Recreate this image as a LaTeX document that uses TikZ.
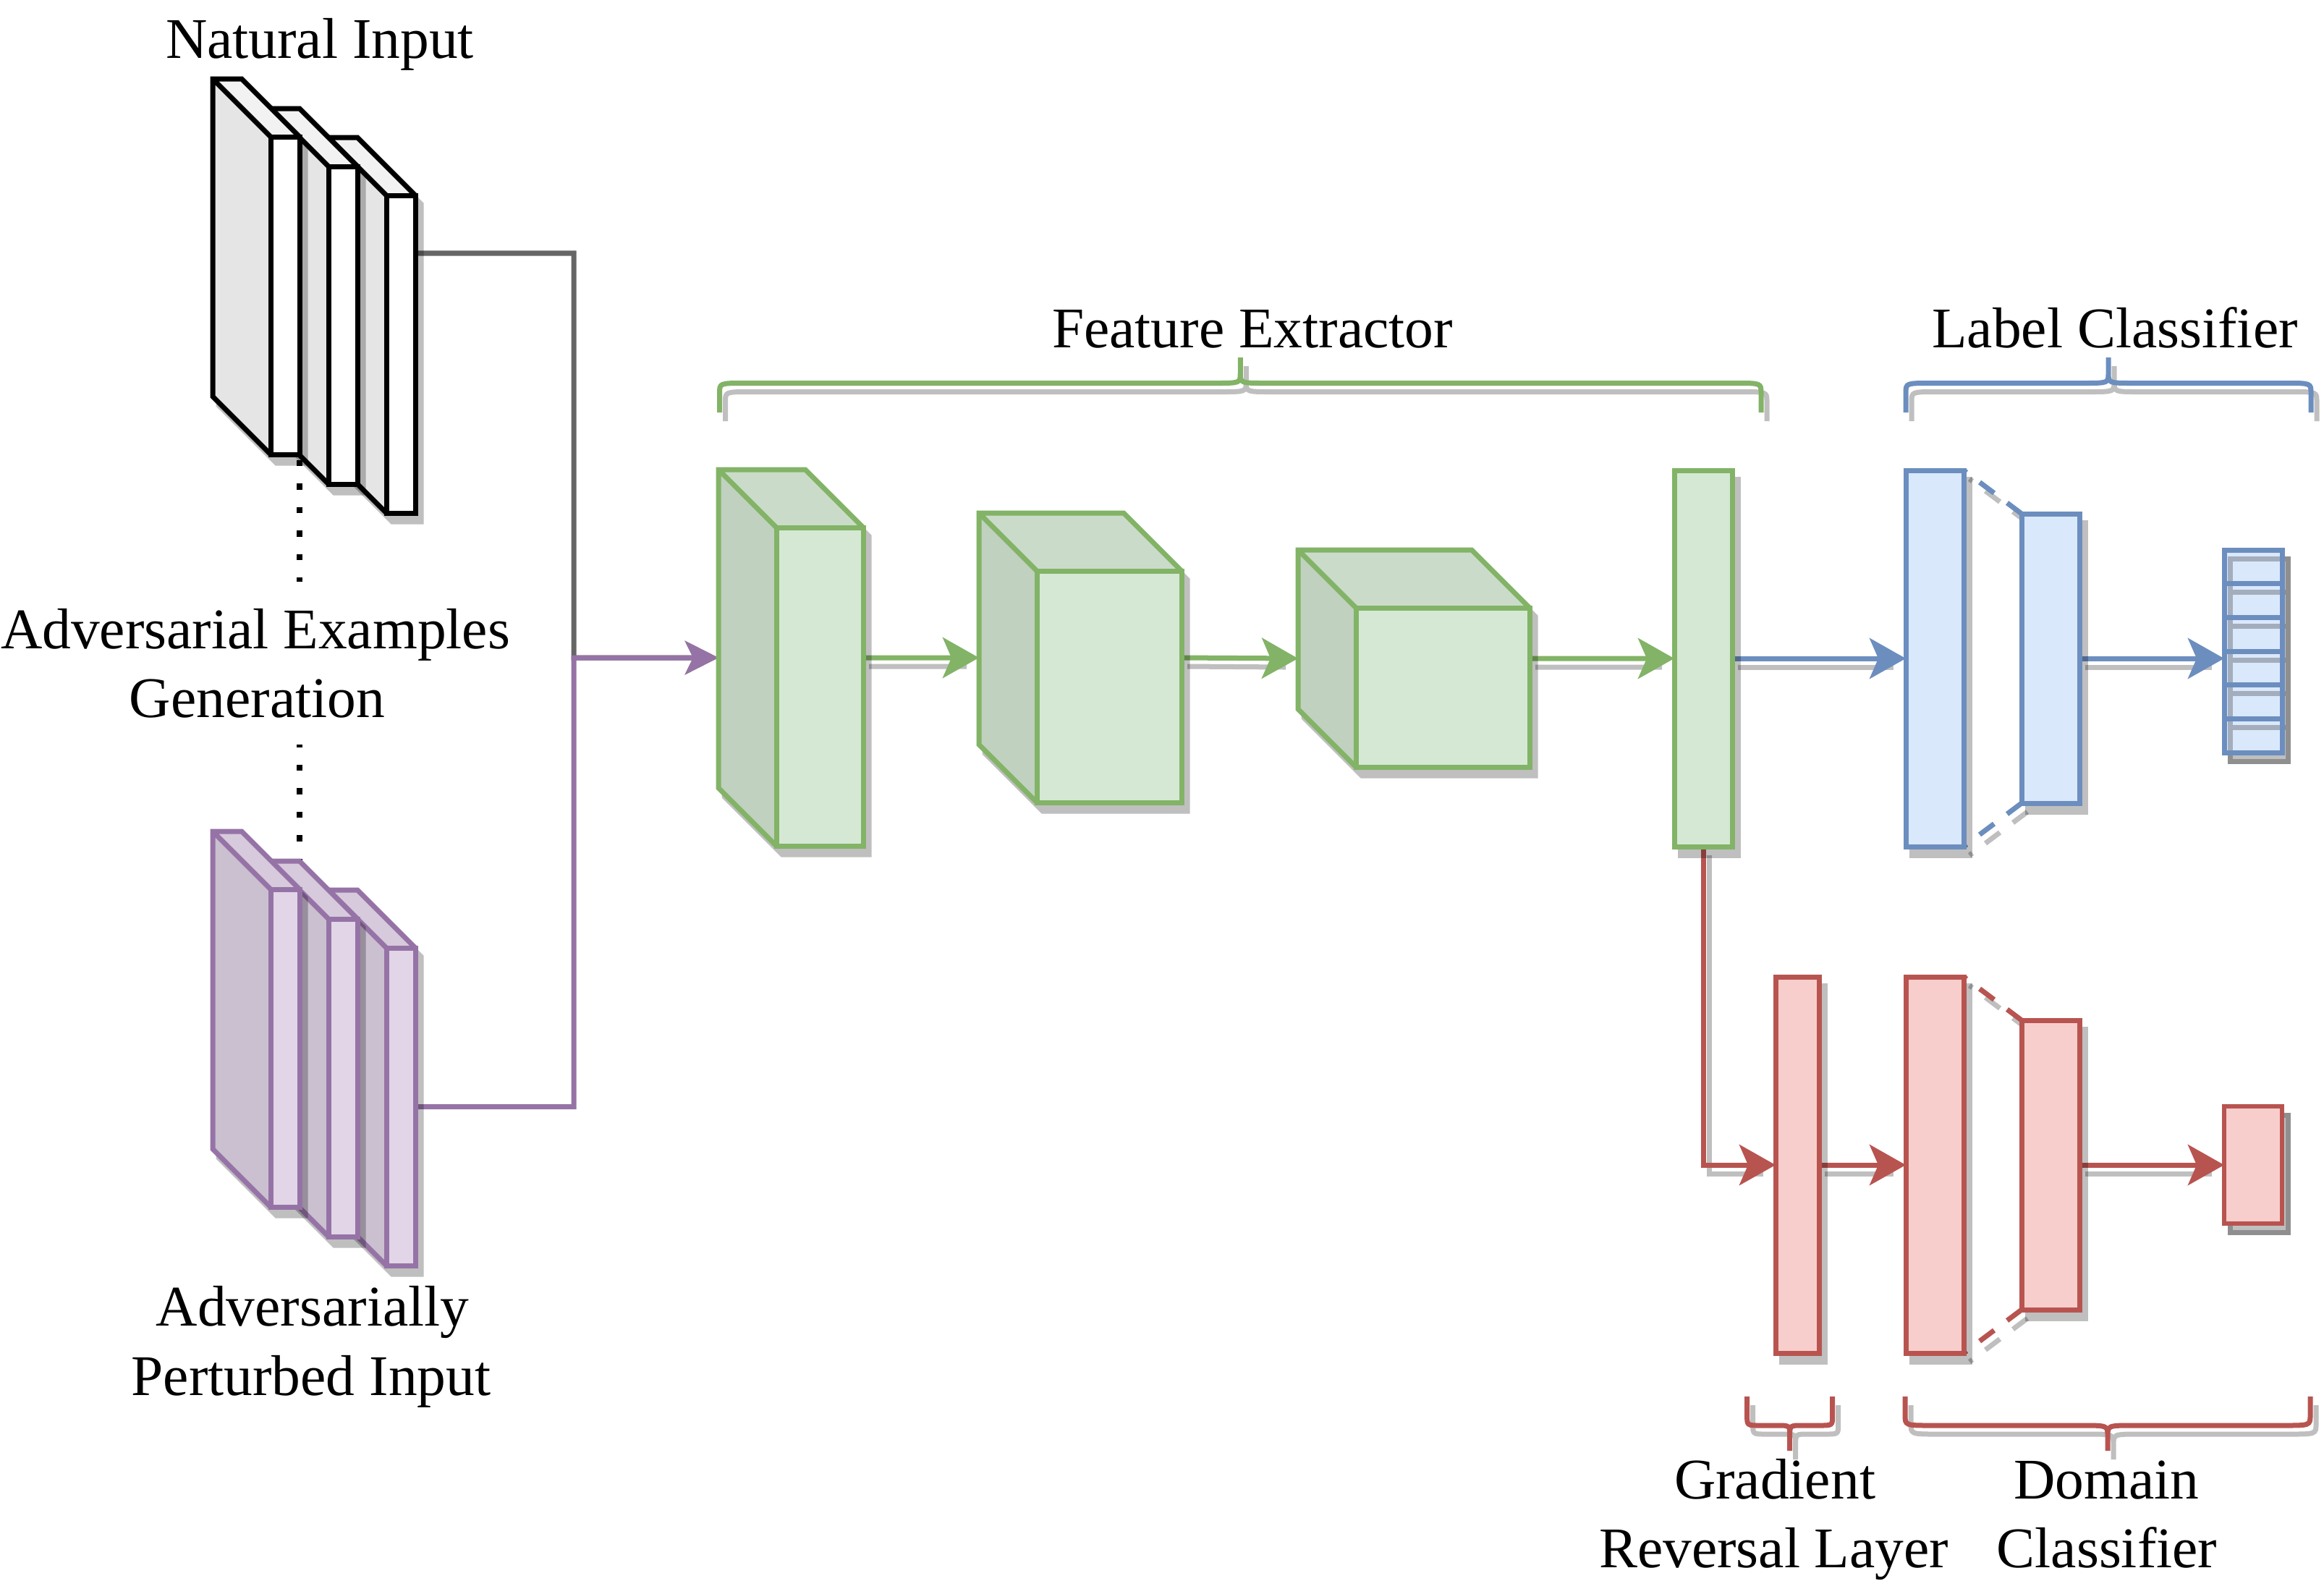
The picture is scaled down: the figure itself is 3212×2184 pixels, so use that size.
\documentclass[tikz,border=0pt]{standalone}
\usepackage{fontspec}
\setmainfont{Liberation Serif}
\usetikzlibrary{arrows.meta,calc}
\pgfdeclarelayer{bg}
\pgfsetlayers{bg,main}
\definecolor{gfill}{HTML}{D5E8D4}
\definecolor{gline}{HTML}{82B366}
\definecolor{bfill}{HTML}{DAE8FC}
\definecolor{bline}{HTML}{6C8EBF}
\definecolor{rfill}{HTML}{F8CECC}
\definecolor{rline}{HTML}{B85450}
\definecolor{pfill}{HTML}{E1D5E7}
\definecolor{pline}{HTML}{9673A6}
\definecolor{kline}{HTML}{666666}
\newcommand\lw{0.07cm}
% cube: name, x0, y0, w, h, depth, fill, line
\newcommand\mkcube[8]{%
  \pgfmathsetmacro\cubefw{(#4-#6)*0.01}%
  \pgfmathsetmacro\cubefh{(#5-#6)*0.01}%
  \pgfmathsetmacro\cubebw{#4*0.01}%
  \pgfmathsetmacro\cubebh{#5*0.01}%
  \begin{scope}[transparency group, opacity=.25]
    \filldraw[black, line width=\lw, shift={(8,12)}] (#2,#3) -- ++(#4-#6,0) -- ++(#6,#6) -- ++(0,#5-#6) -- ++(#6-#4,0) -- ++(-#6,-#6) -- cycle;
  \end{scope}
  \fill[#7!90!black] (#2,#3) -- ++(#6,#6) -- ++(0,#5-#6) -- ++(-#6,-#6) -- cycle;
  \fill[#7!95!black] (#2,#3) -- ++(#4-#6,0) -- ++(#6,#6) -- ++(#6-#4,0) -- cycle;
  \draw[#8, line width=\lw] (#2,#3) -- ++(#4-#6,0) -- ++(#6,#6) -- ++(0,#5-#6) -- ++(#6-#4,0) -- ++(-#6,-#6) -- cycle (#2,#3) -- ++(#6,#6);
  \node[draw=#8, fill=#7, line width=\lw, inner sep=0, outer sep=0, minimum width=\cubefw cm, minimum height=\cubefh cm, anchor=north west] (#1f) at (#2+#6,#3+#6) {};
  \node[inner sep=0, outer sep=0, minimum width=\cubebw cm, minimum height=\cubebh cm, anchor=north west] (#1) at (#2,#3) {};
}
% rect: name, x1, y1, x2, y2, fill, line
\newcommand\mkrect[7]{%
  \fill[black, opacity=.25] (#2+4.5,#3+8.5) rectangle (#4+11.5,#5+15.5);
  \pgfmathsetmacro\myrw{(#4-#2)*0.01}%
  \pgfmathsetmacro\myrh{(#5-#3)*0.01}%
  \node[draw=#7, fill=#6, line width=\lw, inner sep=0, outer sep=0, minimum width=\myrw cm, minimum height=\myrh cm] (#1) at ({(#2+#4)/2},{(#3+#5)/2}) {};
}
% brace: opts, xl, xr, yend, yh, ytip, a (signed), b
\newcommand\mybrace[8]{%
  \pgfmathsetmacro\bxm{(#2+#3)/2}%
  \pgfmathsetmacro\bya{#5+#7}%
  \pgfmathsetmacro\byb{#5-#7}%
  \draw[#1] (#2,#4) -- (#2,\bya) .. controls (#2,#5) .. (#2+#8,#5) -- (\bxm-#8,#5) .. controls (\bxm,#5) .. (\bxm,\byb) -- (\bxm,#6)
    (\bxm,\byb) .. controls (\bxm,#5) .. (\bxm+#8,#5) -- (#3-#8,#5) .. controls (#3,#5) .. (#3,\bya) -- (#3,#4);
}
\begin{document}
\begin{tikzpicture}[x=0.01cm, y=-0.01cm,
  txt/.style={font=\fontsize{22.6pt}{27.2pt}\selectfont, inner sep=0, outer sep=0, anchor=base},
  arr/.style={line width=\lw, -{Stealth[length=0.5cm, width=0.56cm, inset=0.12cm]}},
  parr/.style={line width=\lw, -{Stealth[length=0.46cm, width=0.46cm, inset=0.11cm]}},
  shad/.style={line width=\lw, black, opacity=.25},
  dotl/.style={line width=0.08cm, black, dash pattern=on 0.085cm off 0.24cm},
  dashl/.style={dash pattern=on 0.25cm off 0.225cm, dash phase=0.2cm}]
\useasboundingbox (0,0) rectangle (3212,2184);

% natural input stack
\mkcube{n3}{454}{190}{120}{519}{80}{white}{black}
\mkcube{n2}{374}{150}{120}{519}{80}{white}{black}
\mkcube{n1}{294}{109}{120}{519}{80}{white}{black}
% adversarial stack
\mkcube{p3}{454}{1230}{120}{519}{80}{pfill}{pline}
\mkcube{p2}{374}{1190}{120}{519}{80}{pfill}{pline}
\mkcube{p1}{294}{1149}{120}{519}{80}{pfill}{pline}
% feature extractor
\mkcube{c1}{993}{649}{200}{520}{80}{gfill}{gline}
\mkcube{c2}{1353}{709}{280}{400}{80}{gfill}{gline}
\mkcube{c3}{1794}{760}{320}{300}{80}{gfill}{gline}
\mkrect{fv}{2314}{650}{2394}{1170}{gfill}{gline}
% label classifier
\mkrect{l1}{2634}{650}{2714}{1170}{bfill}{bline}
\mkrect{l2}{2794}{710}{2874}{1110}{bfill}{bline}
\fill[black, opacity=.25] (3078.5,768.5) rectangle (3165.5,1055.5);
\node[fill=bfill, inner sep=0, outer sep=0, minimum width=0.8cm, minimum height=2.8cm] (vec) at (3114,900) {};
\draw[shad, shift={(8,12)}] \foreach \k in {0,...,5} {(3074,{760+46.667*\k}) rectangle (3154,{760+46.667*(\k+1)})};
\foreach \k in {1,...,6} {\node[draw=bline, line width=\lw, inner sep=0, outer sep=0, minimum width=0.8cm, minimum height=0.46667cm] (v\k) at (3114,{760+46.667*(\k-0.5)}) {};}
% domain branch
\mkrect{grl}{2454}{1350}{2514}{1870}{rfill}{rline}
\mkrect{d1}{2634}{1350}{2714}{1870}{rfill}{rline}
\mkrect{d2}{2794}{1410}{2874}{1810}{rfill}{rline}
\fill[black, opacity=.25] (3078.5,1537.5) rectangle (3165.5,1706.5);
\draw[shad] (3082,1541) rectangle (3162,1703);
\node[draw=rline, fill=rfill, line width=0.06cm, inner sep=0, outer sep=0, minimum width=0.8cm, minimum height=1.62cm] (out) at (3114,1610) {};

% braces
\mybrace{shad, shift={(8,12)}}{994.5}{2434}{570}{529.5}{494}{14}{35}
\mybrace{gline, line width=\lw}{994.5}{2434}{570}{529.5}{494}{14}{35}
\mybrace{shad, shift={(8,12)}}{2634}{3194}{570}{529.5}{494}{14}{35}
\mybrace{bline, line width=\lw}{2634}{3194}{570}{529.5}{494}{14}{35}
\mybrace{shad, shift={(8,12)}}{2414.6}{2532.7}{1930}{1970}{2005}{-14}{18}
\mybrace{rline, line width=\lw}{2414.6}{2532.7}{1930}{1970}{2005}{-14}{18}
\mybrace{shad, shift={(8,12)}}{2633}{3193}{1930}{1970}{2005}{-15}{36}
\mybrace{rline, line width=\lw}{2633}{3193}{1930}{1970}{2005}{-15}{36}

% texts
\node[txt] (tnat) at (442,80) {Natural Input};
\node[txt, inner ysep=0.367cm] (advA) at (353,896) {Adversarial Examples};
\node[txt, inner ysep=0.367cm] (advB) at (355.5,991.7) {Generation};
\node[txt] (tapi1) at (432,1832) {Adversarially};
\node[txt] (tapi2) at (430,1928) {Perturbed Input};
\node[txt] (tfe) at (1731,480) {Feature Extractor};
\node[txt] (tlc) at (2923,480) {Label Classifier};
\node[txt] (tgrl1) at (2453,2071.7) {Gradient};
\node[txt] (tgrl2) at (2451.6,2166.7) {Reversal Layer};
\node[txt] (tdc1) at (2911.6,2071.7) {Domain};
\node[txt] (tdc2) at (2912,2166.7) {Classifier};

% connectors (behind shapes)
\begin{pgfonlayer}{bg}
  \coordinate (j) at (793,909);
  \draw[kline, parr] ($(n3f.north east)!0.1822!(n3f.south east)$) -| (j) -- (c1.west);
  \draw[pline, parr] (p3f.east) -| (j) -- (c1.west);
  \draw[dotl, dash phase=0.25cm] (n1f.south east) -- (n1f.south east |- advA.north);
  \draw[dotl, dash phase=0.05cm] (n1f.south east |- advB.south) -- (p1f.north east);
  % green
  \draw[shad] ([shift={(8,12)}]c1.east) -- ([shift={(-17,12)}]c2.west);
  \draw[gline, arr] (c1.east) -- (c2.west);
  \draw[shad] ([shift={(8,12)}]c2.east) -- ([shift={(-17,12)}]c3.west);
  \draw[gline, arr] (c2.east) -- (c3.west);
  \draw[shad] ([shift={(8,12)}]c3.east) -- ([shift={(-17,12)}]fv.west);
  \draw[gline, arr] (c3.east) -- (fv.west);
  % blue
  \draw[shad] ([shift={(8,12)}]fv.east) -- ([shift={(-17,12)}]l1.west);
  \draw[bline, arr] (fv.east) -- (l1.west);
  \draw[shad] ([shift={(8,12)}]l2.east) -- ([shift={(-17,12)}]l2.east -| vec.west);
  \draw[bline, arr] (l2.east) -- (l2.east -| vec.west);
  \draw[shad, dashl] ([shift={(8,12)}]l1.north east) -- ([shift={(8,12)}]l2.north west);
  \draw[bline, line width=\lw, dashl] (l1.north east) -- (l2.north west);
  \draw[shad, dashl] ([shift={(8,12)}]l1.south east) -- ([shift={(8,12)}]l2.south west);
  \draw[bline, line width=\lw, dashl] (l1.south east) -- (l2.south west);
  % red
  \draw[shad] ([shift={(8,12)}]fv.south) |- ([shift={(-17,12)}]grl.west);
  \draw[rline, arr] (fv.south) |- (grl.west);
  \draw[shad] ([shift={(8,12)}]grl.east) -- ([shift={(-17,12)}]d1.west);
  \draw[rline, arr] (grl.east) -- (d1.west);
  \draw[shad] ([shift={(8,12)}]d2.east) -- ([shift={(-17,12)}]out.west);
  \draw[rline, arr] (d2.east) -- (out.west);
  \draw[shad, dashl] ([shift={(8,12)}]d1.north east) -- ([shift={(8,12)}]d2.north west);
  \draw[rline, line width=\lw, dashl] (d1.north east) -- (d2.north west);
  \draw[shad, dashl] ([shift={(8,12)}]d1.south east) -- ([shift={(8,12)}]d2.south west);
  \draw[rline, line width=\lw, dashl] (d1.south east) -- (d2.south west);
\end{pgfonlayer}
\end{tikzpicture}
\end{document}
